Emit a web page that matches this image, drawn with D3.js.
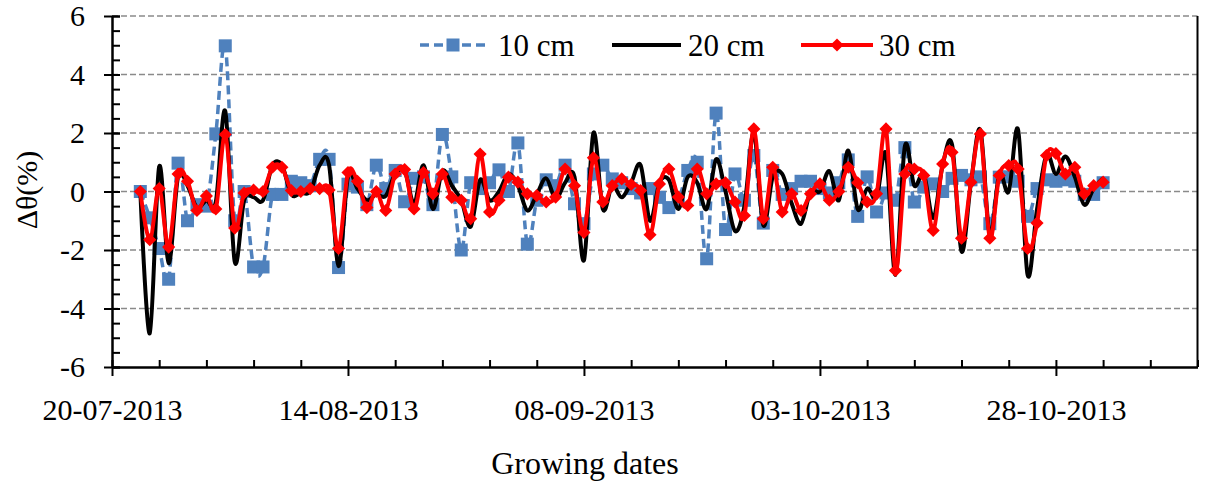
<!DOCTYPE html>
<html>
<head>
<meta charset="utf-8">
<script src="https://cdn.jsdelivr.net/npm/d3@7"></script>
<style>
  body { margin: 0; background: #fff; }
  svg { display: block; font-family: "Liberation Serif", "Times New Roman", serif; }
</style>
</head>
<body>
<script>
// daily values, 23-07-2013 .. 02-11-2013
const firstDay = '23-07-2013';
const xTickLabels = ['20-07-2013', '14-08-2013', '08-09-2013', '03-10-2013', '28-10-2013'];
const xDomain = ['20-07-2013', '12-11-2013'];
const yTicks = [-6, -4, -2, 0, 2, 4, 6];
const seriesNames = ['10 cm', '20 cm', '30 cm'];

const cm10 = [
  0.0, -0.9, -1.95, -3.0, 0.97, -1.0, -0.45, -0.5, 1.97, 4.98,
  -1.0, 0.0, -2.58, -2.58, -0.1, -0.1, 0.35, 0.3, 0.2, 1.1,
  1.1, -2.6, 0.25, 0.15, -0.45, 0.9, 0.1, 0.72, -0.35, 0.45,
  0.5, -0.45, 1.95, 0.5, -2.0, 0.3, 0.1, 0.3, 0.74, 0.0,
  1.66, -1.8, -0.3, 0.4, 0.2, 0.9, -0.42, -1.1, 0.6, 0.9,
  0.43, 0.3, 0.1, -0.05, 0.1, -0.2, -0.55, -0.3, 0.72, 1.0,
  -2.3, 2.68, -1.3, 0.6, -0.3, 1.23, -1.08, 0.72, -0.1, 0.1,
  0.35, 0.35, 0.1, -0.05, 0.3, 1.08, -0.85, 0.5, -0.7, -0.05,
  -0.3, 1.5, -0.36, 0.15, 0.26, 0.0, 0.45, 0.55, 0.4, 0.5,
  -1.1, 0.49, 0.5, 0.35, -0.85, 0.1, 0.4, 0.35, 0.4, 0.35,
  -0.1, -0.1, 0.3
];

const cm20 = [
  0.0, -4.85, 0.85, -2.45, 0.5, 0.2, -0.55, -0.3, -0.35, 2.75,
  -2.4, -0.3, -0.2, -0.3, 0.9, 0.9, -0.1, -0.05, 0.0, 0.9,
  0.9, -2.55, 0.5, 0.1, -0.3, -0.1, -0.15, 0.6, 0.7, -0.4,
  0.9, -0.6, 0.7, 0.2, -0.3, -1.2, 0.4, -0.3, 0.0, 0.6,
  0.2, -0.65, -0.1, 0.45, -0.25, 0.3, 0.5, -2.35, 2.0, -0.6,
  0.2, -0.2, 0.3, 0.9, -1.0, 0.3, 0.4, -0.6, 0.5, 0.3,
  -0.6, 1.1, 0.0, -1.35, -0.5, 2.0, -1.15, 0.5, 0.6, -0.4,
  -1.1, 0.0, 0.0, 0.7, -0.3, 1.4, -0.6, 0.1, -0.2, 1.28,
  -2.85, 1.55, 0.2, 0.6, -0.9, 0.9, 1.6, -2.05, 0.3, 2.1,
  -1.5, 0.6, 0.0, 2.1, -2.85, -0.6, 1.25, 0.6, 1.2, 0.5,
  -0.45, 0.1, 0.45
];

const cm30 = [
  0.0, -1.65, 0.1, -1.9, 0.6, 0.35, -0.65, -0.15, -0.6, 1.95,
  -1.25, -0.05, 0.05, 0.0, 0.83, 0.83, 0.03, 0.0, 0.1, 0.1,
  0.05, -1.95, 0.65, 0.35, -0.55, 0.0, -0.65, 0.6, 0.75, -0.6,
  0.65, -0.08, 0.6, -0.2, -0.3, -0.93, 1.28, -0.7, -0.3, 0.49,
  0.32, -0.08, -0.14, -0.36, -0.19, 0.77, 0.2, -1.4, 1.15, -0.36,
  0.2, 0.43, 0.24, 0.03, -1.48, 0.26, 0.77, -0.19, -0.48, 0.77,
  -0.08, 0.26, 0.3, -0.36, -0.82, 2.14, -0.93, 0.83, -0.7, -0.08,
  -0.65, -0.08, 0.26, -0.3, 0.0, 0.83, 0.3, -0.36, -0.08, 2.14,
  -2.7, 0.6, 0.77, 0.55, -1.33, 0.94, 1.34, -1.6, 0.32, 1.97,
  -1.6, 0.55, 0.89, 0.77, -1.95, -1.08, 1.23, 1.3, 0.6, 0.83,
  -0.08, 0.2, 0.32
];

let w = 1211, h = 488;
let padLeft = 112, padRight = 1197.5, padTop = 16, padBottom = 367;
let serif = '"Liberation Serif", "Times New Roman", serif';
let parse = d3.timeParse('%d-%m-%Y');
let fmt = d3.timeFormat('%d-%m-%Y');

let start = parse(firstDay);
let dates = cm30.map((d, i) => d3.timeDay.offset(start, i));

let svg = d3.select('body').append('svg')
  .attr('width', w)
  .attr('height', h);

let x = d3.scaleTime()
  .domain(xDomain.map(parse))
  .range([padLeft, padRight]);

let y = d3.scaleLinear()
  .domain([-6, 6])
  .range([padBottom, padTop]);

// gridlines
svg.append('g')
  .selectAll('line')
  .data(yTicks.filter(d => d !== -6))
  .enter()
  .append('line')
  .attr('x1', padLeft)
  .attr('x2', padRight)
  .attr('y1', d => y(d))
  .attr('y2', d => y(d))
  .attr('stroke', '#8a8a8a')
  .attr('stroke-width', 1.5)
  .attr('stroke-dasharray', '6,3');

// right border of plot
svg.append('line')
  .attr('x1', padRight).attr('x2', padRight)
  .attr('y1', padTop).attr('y2', padBottom)
  .attr('stroke', '#000')
  .attr('stroke-width', 2);

// minor ticks
let d0 = x.domain()[0];
let nDays = d3.timeDay.count(x.domain()[0], x.domain()[1]);
let minorX = d3.range(0, nDays + 1, 5).map(k => d3.timeDay.offset(d0, k));
svg.append('g')
  .attr('transform', `translate(0,${padBottom})`)
  .call(d3.axisBottom(x).tickValues(minorX).tickSize(-7).tickFormat(''))
  .call(g => g.select('.domain').remove())
  .selectAll('line').attr('stroke', '#000').attr('stroke-width', 2);

svg.append('g')
  .attr('transform', `translate(${padLeft},0)`)
  .call(d3.axisLeft(y).tickValues(d3.range(-6, 6.01, 0.5)).tickSize(-8).tickFormat(''))
  .call(g => g.select('.domain').remove())
  .selectAll('line').attr('stroke', '#000').attr('stroke-width', 2);

// major axes
let xAxis = svg.append('g')
  .attr('transform', `translate(0,${padBottom})`)
  .call(d3.axisBottom(x)
    .tickValues(xTickLabels.map(parse))
    .tickSize(9)
    .tickSizeOuter(0)
    .tickPadding(23)
    .tickFormat(fmt));
xAxis.attr('font-family', serif);
xAxis.select('.domain').attr('stroke', '#000').attr('stroke-width', 2.5);
xAxis.selectAll('line').attr('stroke', '#000').attr('stroke-width', 2);
xAxis.selectAll('text')
  .attr('font-size', 30)
  .attr('fill', '#000');

let yAxis = svg.append('g')
  .attr('transform', `translate(${padLeft},0)`)
  .call(d3.axisLeft(y)
    .tickValues(yTicks)
    .tickSize(8)
    .tickSizeOuter(0)
    .tickPadding(19)
    .tickFormat(d => String(d)));
yAxis.attr('font-family', serif);
yAxis.select('.domain').attr('stroke', '#000').attr('stroke-width', 2.5);
yAxis.selectAll('line').attr('stroke', '#000').attr('stroke-width', 2);
yAxis.selectAll('text')
  .attr('font-size', 30)
  .attr('fill', '#000');

// inner half of the major y ticks
svg.append('g')
  .attr('transform', `translate(${padLeft},0)`)
  .call(d3.axisLeft(y).tickValues(yTicks).tickSize(-8).tickFormat(''))
  .call(g => g.select('.domain').remove())
  .selectAll('line').attr('stroke', '#000').attr('stroke-width', 2);

// series
let line = d3.line()
  .x((d, i) => x(dates[i]))
  .y(d => y(d))
  .curve(d3.curveCardinal.tension(0));

let plot = svg.append('g');

plot.append('path')
  .datum(cm10)
  .attr('d', line)
  .attr('fill', 'none')
  .attr('stroke', '#4f81bd')
  .attr('stroke-width', 3.5)
  .attr('stroke-dasharray', '9,5');

plot.append('g')
  .selectAll('rect')
  .data(cm10)
  .enter()
  .append('rect')
  .attr('x', (d, i) => x(dates[i]) - 6.5)
  .attr('y', d => y(d) - 6.5)
  .attr('width', 13)
  .attr('height', 13)
  .attr('fill', '#4f81bd');

plot.append('path')
  .datum(cm20)
  .attr('d', line)
  .attr('fill', 'none')
  .attr('stroke', '#000')
  .attr('stroke-width', 4);

plot.append('path')
  .datum(cm30)
  .attr('d', line)
  .attr('fill', 'none')
  .attr('stroke', '#ff0000')
  .attr('stroke-width', 4);

let diamond = d3.symbol().type(d3.symbolDiamond2).size(110);
plot.append('g')
  .selectAll('path')
  .data(cm30)
  .enter()
  .append('path')
  .attr('d', diamond)
  .attr('transform', (d, i) => `translate(${x(dates[i])},${y(d)})`)
  .attr('fill', '#ff0000');

// legend
let legend = svg.append('g').attr('font-size', 31);
let lg = [
  { x1: 420, x2: 486, tx: 498, color: '#4f81bd', dash: '9,5', mark: 'square' },
  { x1: 612, x2: 681, tx: 688, color: '#000', dash: null, mark: null },
  { x1: 801, x2: 873, tx: 879, color: '#ff0000', dash: null, mark: 'diamond' }
];
lg.forEach((o, i) => {
  legend.append('line')
    .attr('x1', o.x1).attr('x2', o.x2)
    .attr('y1', 45).attr('y2', 45)
    .attr('stroke', o.color)
    .attr('stroke-width', i === 0 ? 3.5 : 4)
    .attr('stroke-dasharray', o.dash);
  let cx = (o.x1 + o.x2) / 2;
  if (o.mark === 'square') {
    legend.append('rect')
      .attr('x', cx - 6.5).attr('y', 45 - 6.5)
      .attr('width', 13).attr('height', 13)
      .attr('fill', o.color);
  } else if (o.mark === 'diamond') {
    legend.append('path')
      .attr('d', diamond)
      .attr('transform', `translate(${cx},45)`)
      .attr('fill', o.color);
  }
  legend.append('text')
    .attr('x', o.tx)
    .attr('y', 56)
    .text(seriesNames[i]);
});

// axis titles
svg.append('text')
  .attr('x', 585)
  .attr('y', 474)
  .attr('text-anchor', 'middle')
  .attr('font-size', 32)
  .text('Growing dates');

svg.append('text')
  .attr('transform', 'translate(37,190) rotate(-90)')
  .attr('text-anchor', 'middle')
  .attr('font-size', 30)
  .text('Δθ(%)');
</script>
</body>
</html>
